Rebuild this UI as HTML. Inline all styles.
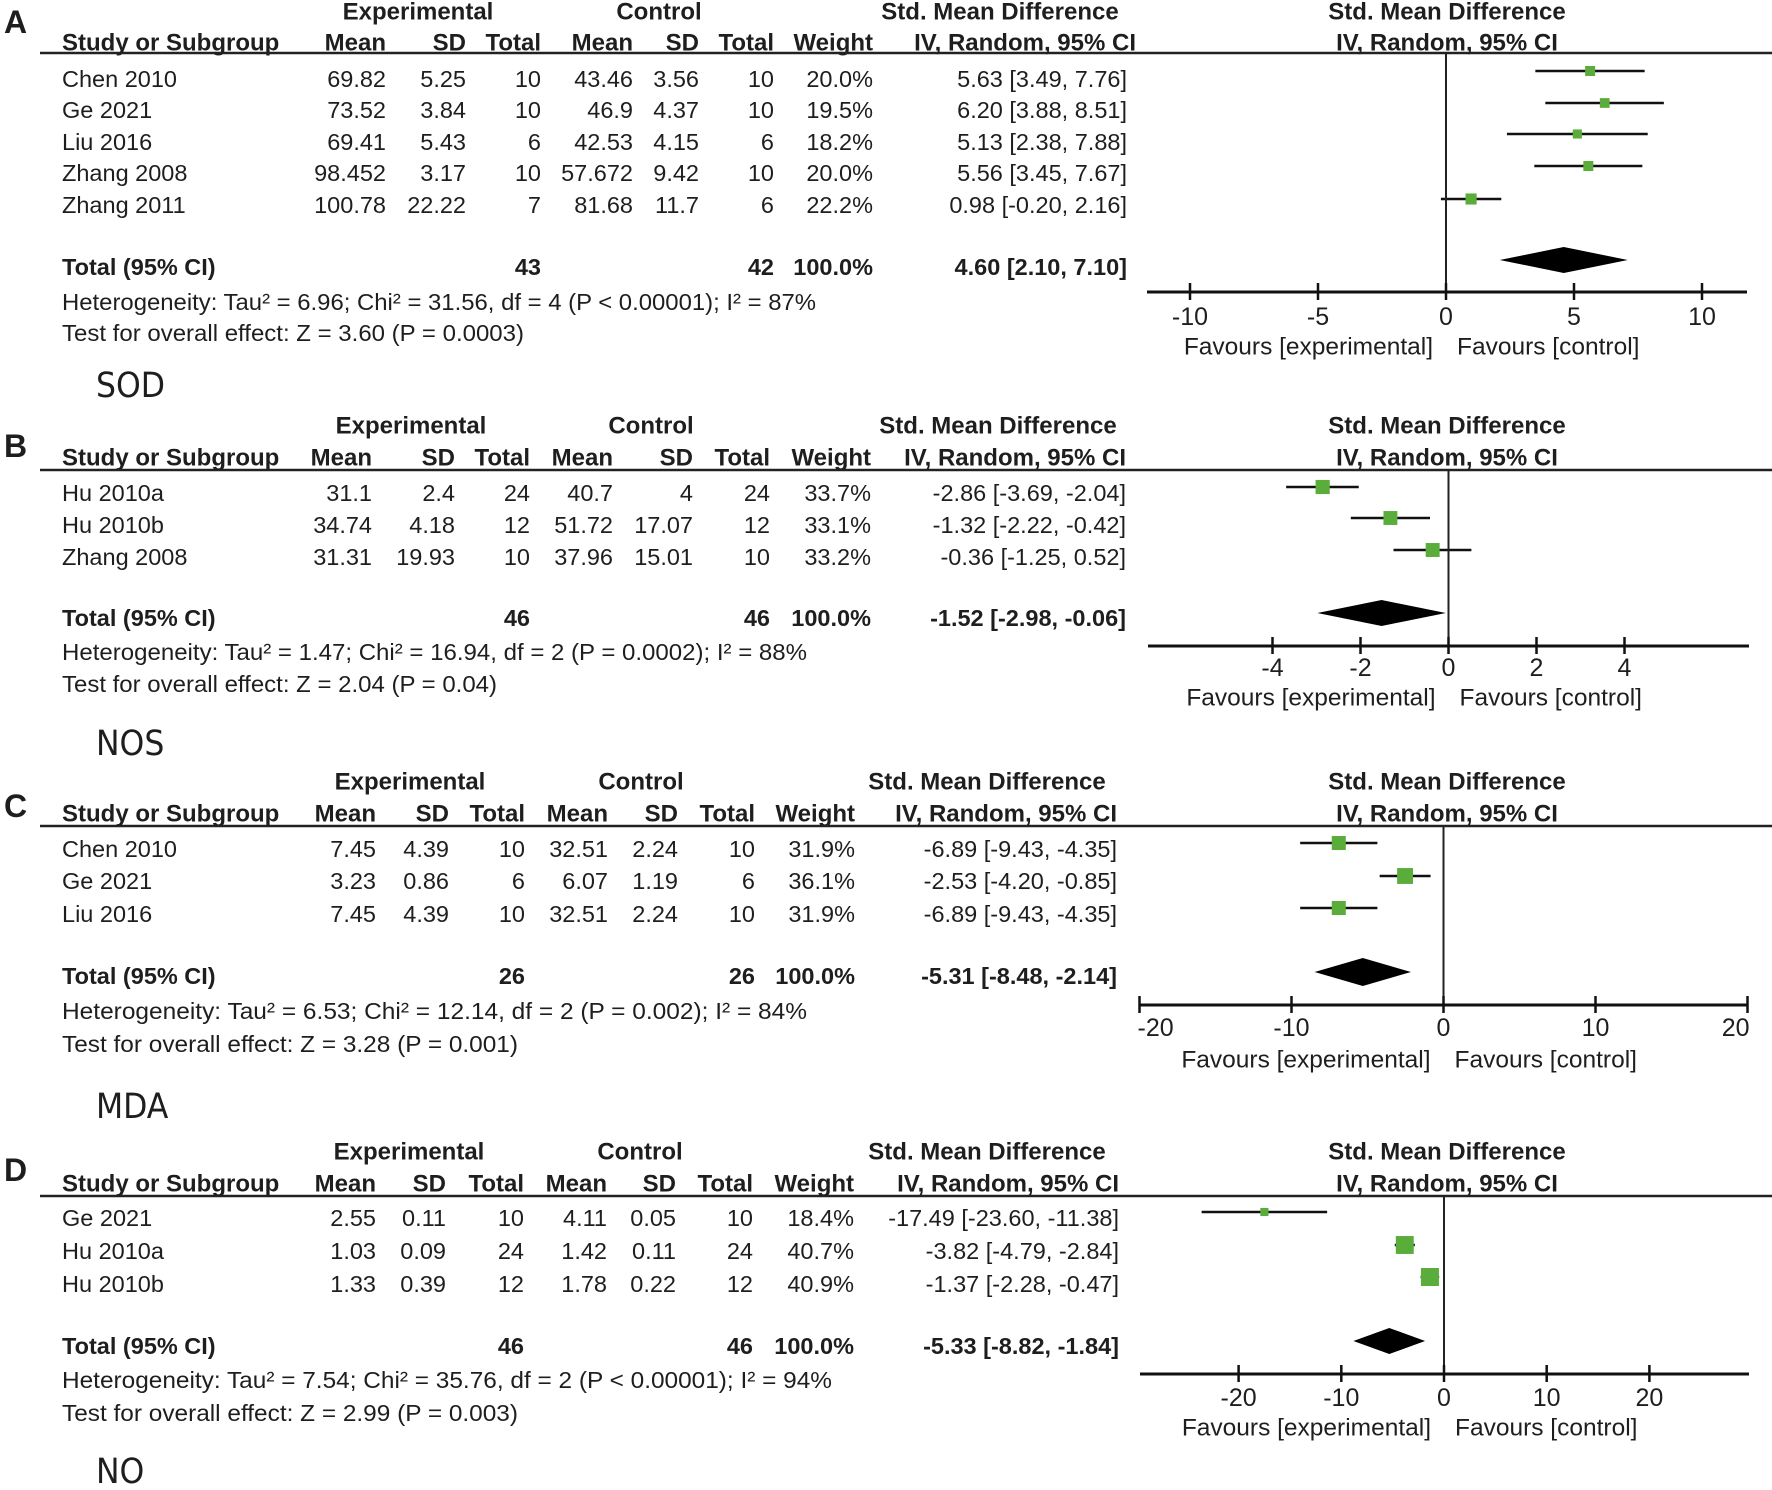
<!DOCTYPE html>
<html><head><meta charset="utf-8">
<style>
html,body{margin:0;padding:0;background:#fff;}
svg{display:block;}
text{font-family:"Liberation Sans",Arial,sans-serif;fill:#1e1e1e;}
</style></head>
<body>
<svg id="fig" width="1772" height="1490" viewBox="0 0 1772 1490" xmlns="http://www.w3.org/2000/svg"></svg>
<script>
// ---- Panel A (SOD) data ----
const studiesA = ["Chen 2010","Ge 2021","Liu 2016","Zhang 2008","Zhang 2011"];
const expMeanA = ["69.82","73.52","69.41","98.452","100.78"];
const expSdA = ["5.25","3.84","5.43","3.17","22.22"];
const expNA = ["10","10","6","10","7"];
const ctlMeanA = ["43.46","46.9","42.53","57.672","81.68"];
const ctlSdA = ["3.56","4.37","4.15","9.42","11.7"];
const ctlNA = ["10","10","6","10","6"];
const weightA = [20.0,19.5,18.2,20.0,22.2];
const smdA = [5.63,6.20,5.13,5.56,0.98];
const lowA = [3.49,3.88,2.38,3.45,-0.20];
const highA = [7.76,8.51,7.88,7.67,2.16];
const totalA = [4.60,2.10,7.10];
const ticksA = [-10,-5,0,5,10];

// ---- Panel B (NOS) data ----
const studiesB = ["Hu 2010a","Hu 2010b","Zhang 2008"];
const expMeanB = ["31.1","34.74","31.31"];
const expSdB = ["2.4","4.18","19.93"];
const expNB = ["24","12","10"];
const ctlMeanB = ["40.7","51.72","37.96"];
const ctlSdB = ["4","17.07","15.01"];
const ctlNB = ["24","12","10"];
const weightB = [33.7,33.1,33.2];
const smdB = [-2.86,-1.32,-0.36];
const lowB = [-3.69,-2.22,-1.25];
const highB = [-2.04,-0.42,0.52];
const totalB = [-1.52,-2.98,-0.06];
const ticksB = [-4,-2,0,2,4];

// ---- Panel C (MDA) data ----
const studiesC = ["Chen 2010","Ge 2021","Liu 2016"];
const expMeanC = ["7.45","3.23","7.45"];
const expSdC = ["4.39","0.86","4.39"];
const expNC = ["10","6","10"];
const ctlMeanC = ["32.51","6.07","32.51"];
const ctlSdC = ["2.24","1.19","2.24"];
const ctlNC = ["10","6","10"];
const weightC = [31.9,36.1,31.9];
const smdC = [-6.89,-2.53,-6.89];
const lowC = [-9.43,-4.20,-9.43];
const highC = [-4.35,-0.85,-4.35];
const totalC = [-5.31,-8.48,-2.14];
const ticksC = [-20,-10,0,10,20];

// ---- Panel D (NO) data ----
const studiesD = ["Ge 2021","Hu 2010a","Hu 2010b"];
const expMeanD = ["2.55","1.03","1.33"];
const expSdD = ["0.11","0.09","0.39"];
const expND = ["10","24","12"];
const ctlMeanD = ["4.11","1.42","1.78"];
const ctlSdD = ["0.05","0.11","0.22"];
const ctlND = ["10","24","12"];
const weightD = [18.4,40.7,40.9];
const smdD = [-17.49,-3.82,-1.37];
const lowD = [-23.60,-4.79,-2.28];
const highD = [-11.38,-2.84,-0.47];
const totalD = [-5.33,-8.82,-1.84];
const ticksD = [-20,-10,0,10,20];

const NS="http://www.w3.org/2000/svg";
const svg=document.getElementById('fig');
const FS=23.5;
function mk(tag,attrs,parent){const e=document.createElementNS(NS,tag);for(const k in attrs)e.setAttribute(k,attrs[k]);(parent||svg).appendChild(e);return e;}
function txt(s,x,y,opt,parent){opt=opt||{};const t=mk('text',{x:x,y:y,'dominant-baseline':'central','font-size':opt.fs||FS,'text-anchor':opt.anchor||'start'},parent);if(opt.bold)t.setAttribute('font-weight','bold');if(opt.tl){t.setAttribute('textLength',opt.tl);t.setAttribute('lengthAdjust','spacingAndGlyphs');}if(opt.family)t.setAttribute('style','font-family:'+opt.family);t.textContent=s;return t;}
function fmt(v){return v.toFixed(2);}
function ci(a,b,c){return fmt(a)+" ["+fmt(b)+", "+fmt(c)+"]";}

const panels=[
 {key:'a',letter:'A',name:'SOD',studies:studiesA,em:expMeanA,es:expSdA,en:expNA,cm:ctlMeanA,cs:ctlSdA,cn:ctlNA,w:weightA,smd:smdA,lo:lowA,hi:highA,tot:totalA,ticks:ticksA,
  eTot:"43",cTot:"42",het:"Heterogeneity: Tau² = 6.96; Chi² = 31.56, df = 4 (P < 0.00001); I² = 87%",hetW:754,test:"Test for overall effect: Z = 3.60 (P = 0.0003)",testW:462,
  letterY:22,h1:12,h2:43,line:53,cols:[386,466,541,633,699,774,873,1127],ciHead:1136,expC:418,ctlC:659,smdC:1000,
  rowsY:[79,110,142,173,205],boxY:[71,103,134,166,199],totY:267,hetY:302,testY:333,nameY:386,
  zero:1446,scale:25.6,axY:292,axL:1147,axR:1747,endTicks:false,tickY:317,favY:347,diaY:260,diaH:13,k:0.25},
 {key:'b',letter:'B',name:'NOS',studies:studiesB,em:expMeanB,es:expSdB,en:expNB,cm:ctlMeanB,cs:ctlSdB,cn:ctlNB,w:weightB,smd:smdB,lo:lowB,hi:highB,tot:totalB,ticks:ticksB,
  eTot:"46",cTot:"46",het:"Heterogeneity: Tau² = 1.47; Chi² = 16.94, df = 2 (P = 0.0002); I² = 88%",hetW:745,test:"Test for overall effect: Z = 2.04 (P = 0.04)",testW:435,
  letterY:446,h1:426,h2:458,line:470,cols:[372,455,530,613,693,770,871,1126],ciHead:1126,expC:411,ctlC:651,smdC:998,
  rowsY:[493,525,557],boxY:[487,518,550],totY:618,hetY:652,testY:684,nameY:744,
  zero:1448.5,scale:44,axY:646,axL:1148,axR:1749,endTicks:false,tickY:668,favY:698,diaY:613,diaH:13,k:0.21},
 {key:'c',letter:'C',name:'MDA',studies:studiesC,em:expMeanC,es:expSdC,en:expNC,cm:ctlMeanC,cs:ctlSdC,cn:ctlNC,w:weightC,smd:smdC,lo:lowC,hi:highC,tot:totalC,ticks:ticksC,
  eTot:"26",cTot:"26",het:"Heterogeneity: Tau² = 6.53; Chi² = 12.14, df = 2 (P = 0.002); I² = 84%",hetW:745,test:"Test for overall effect: Z = 3.28 (P = 0.001)",testW:456,
  letterY:806,h1:782,h2:814,line:826,cols:[376,449,525,608,678,755,855,1117],ciHead:1117,expC:410,ctlC:641,smdC:987,
  rowsY:[849,881,914],boxY:[843,876,908],totY:976,hetY:1011,testY:1044,nameY:1107,
  zero:1443.5,scale:15.2,axY:1005,axL:1139,axR:1747,endTicks:true,tickY:1028,favY:1060,diaY:972,diaH:14,k:0.22},
 {key:'d',letter:'D',name:'NO',studies:studiesD,em:expMeanD,es:expSdD,en:expND,cm:ctlMeanD,cs:ctlSdD,cn:ctlND,w:weightD,smd:smdD,lo:lowD,hi:highD,tot:totalD,ticks:ticksD,
  eTot:"46",cTot:"46",het:"Heterogeneity: Tau² = 7.54; Chi² = 35.76, df = 2 (P < 0.00001); I² = 94%",hetW:770,test:"Test for overall effect: Z = 2.99 (P = 0.003)",testW:456,
  letterY:1170,h1:1152,h2:1184,line:1196,cols:[376,446,524,607,676,753,854,1119],ciHead:1119,expC:409,ctlC:640,smdC:987,
  rowsY:[1218,1251,1284],boxY:[1212,1245,1277],totY:1346,hetY:1380,testY:1413,nameY:1472,
  zero:1444,scale:10.27,axY:1374,axL:1140,axR:1749,endTicks:false,tickY:1398,favY:1428,diaY:1341,diaH:13,k:0.22}
];

panels.forEach(p=>{
  const g=mk('g',{});
  
  
  const x=v=>p.zero+v*p.scale;
  const L=txt(p.letter,4,p.letterY,{fs:32,bold:true},g);
  
  
  const hd=mk('g',{},g);
  
  
  txt("Experimental",p.expC,p.h1,{bold:true,anchor:'middle',fs:24},hd);
  txt("Control",p.ctlC,p.h1,{bold:true,anchor:'middle',fs:24},hd);
  txt("Std. Mean Difference",p.smdC,p.h1,{bold:true,anchor:'middle',fs:24},hd);
  txt("Std. Mean Difference",1447,p.h1,{bold:true,anchor:'middle',fs:24},hd);
  txt("Study or Subgroup",62,p.h2,{bold:true,fs:24},hd);
  const hn=["Mean","SD","Total","Mean","SD","Total","Weight"];
  hn.forEach((s,i)=>txt(s,p.cols[i],p.h2,{bold:true,anchor:'end',fs:24},hd));
  txt("IV, Random, 95% CI",p.ciHead,p.h2,{bold:true,anchor:'end',fs:24},hd);
  txt("IV, Random, 95% CI",1447,p.h2,{bold:true,anchor:'middle',fs:24},hd);
  const hl=mk('line',{x1:40,x2:1772,y1:p.line,y2:p.line,stroke:'#222','stroke-width':2.5},g);
  
  
  p.studies.forEach((s,i)=>{
    const r=mk('g',{},g);
    
    
    const y=p.rowsY[i];
    txt(s,62,y,{},r);
    const vals=[p.em[i],p.es[i],p.en[i],p.cm[i],p.cs[i],p.cn[i],p.w[i].toFixed(1)+"%",ci(p.smd[i],p.lo[i],p.hi[i])];
    vals.forEach((v,j)=>txt(v,p.cols[j],y,{anchor:'end'},r));
    const by=p.boxY[i];
    const ln=mk('line',{x1:x(p.lo[i]),x2:x(p.hi[i]),y1:by,y2:by,stroke:'#111','stroke-width':2.5},g);
    
    
    const h=p.w[i]*p.k;
    const bx=mk('rect',{x:x(p.smd[i])-h,y:by-h,width:2*h,height:2*h,fill:'#5aad3a'},g);
    
    
  });
  const tr=mk('g',{},g);
  
  
  txt("Total (95% CI)",62,p.totY,{bold:true},tr);
  txt(p.eTot,p.cols[2],p.totY,{bold:true,anchor:'end'},tr);
  txt(p.cTot,p.cols[5],p.totY,{bold:true,anchor:'end'},tr);
  txt("100.0%",p.cols[6],p.totY,{bold:true,anchor:'end'},tr);
  txt(ci(p.tot[0],p.tot[1],p.tot[2]),p.cols[7],p.totY,{bold:true,anchor:'end'},tr);
  const ht=txt(p.het,62,p.hetY,{tl:p.hetW},g);
  
  
  const tt=txt(p.test,62,p.testY,{tl:p.testW},g);
  
  
  const nm=txt(p.name,96,p.nameY,{fs:35,family:'"DejaVu Sans Condensed","Liberation Sans",sans-serif'},g);
  
  
  const vl=mk('line',{x1:x(0),x2:x(0),y1:p.line,y2:p.axY,stroke:'#222','stroke-width':2},g);
  
  
  const ax=mk('line',{x1:p.axL,x2:p.axR,y1:p.axY,y2:p.axY,stroke:'#111','stroke-width':3},g);
  
  
  p.ticks.forEach((t,i)=>{
    const tx=x(t);
    mk('line',{x1:tx,x2:tx,y1:p.axY-9,y2:p.axY+8,stroke:'#111','stroke-width':2.5},g);
    let anchor='middle';
    if(p.endTicks&&i===0)anchor='start';
    if(p.endTicks&&i===p.ticks.length-1)anchor='end';
    const tl=txt(String(t),tx+(anchor==='start'?-2:anchor==='end'?2:0),p.tickY,{anchor:anchor,fs:25},g);
    
    
  });
  const f1=txt("Favours [experimental]",x(0)-13,p.favY,{anchor:'end',fs:24.5},g);
  
  
  const f2=txt("Favours [control]",x(0)+11,p.favY,{fs:24.5},g);
  
  
  const dm=mk('polygon',{points:[x(p.tot[1])+','+p.diaY,x(p.tot[0])+','+(p.diaY-p.diaH),x(p.tot[2])+','+p.diaY,x(p.tot[0])+','+(p.diaY+p.diaH)].join(' '),fill:'#000'},g);
  
  
});
</script>
</body></html>
